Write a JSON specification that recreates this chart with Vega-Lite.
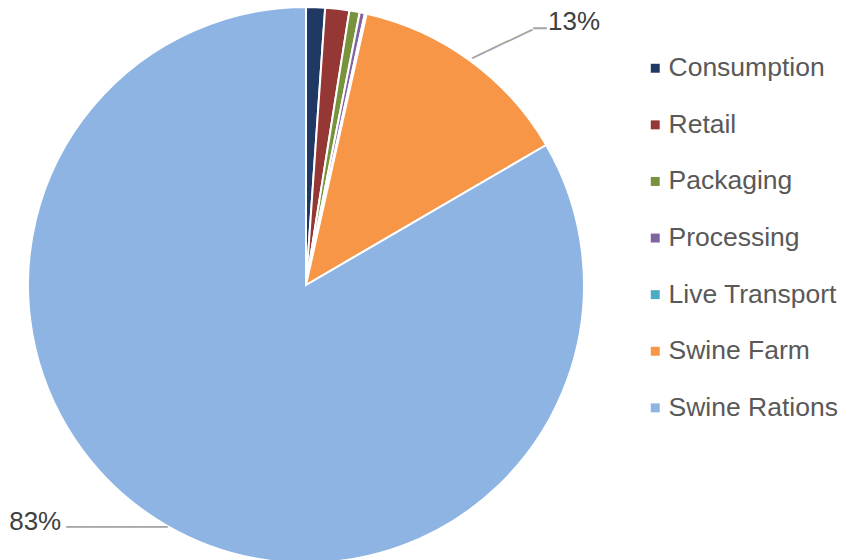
{
  "$schema": "https://vega.github.io/schema/vega-lite/v6.json",
  "width": 612,
  "height": 570,
  "padding": {"left": 0, "top": 0, "right": 235, "bottom": 0},
  "autosize": "none",
  "background": "white",
  "data": {
    "values": [
      {"category": "Consumption", "value": 1.1, "order": 1, "label": ""},
      {"category": "Retail", "value": 1.4, "order": 2, "label": ""},
      {"category": "Packaging", "value": 0.6, "order": 3, "label": ""},
      {"category": "Processing", "value": 0.3, "order": 4, "label": ""},
      {"category": "Live Transport", "value": 0.1, "order": 5, "label": ""},
      {"category": "Swine Farm", "value": 13.1, "order": 6, "label": "13%"},
      {"category": "Swine Rations", "value": 83.4, "order": 7, "label": "83%"}
    ]
  },
  "encoding": {
    "theta": {"field": "value", "type": "quantitative", "stack": true},
    "order": {"field": "order", "type": "quantitative"}
  },
  "layer": [
    {
      "mark": {"type": "arc", "outerRadius": 278, "stroke": "white", "strokeWidth": 2},
      "encoding": {
        "color": {
          "field": "category",
          "type": "nominal",
          "sort": ["Consumption", "Retail", "Packaging", "Processing", "Live Transport", "Swine Farm", "Swine Rations"],
          "scale": {
            "domain": ["Consumption", "Retail", "Packaging", "Processing", "Live Transport", "Swine Farm", "Swine Rations"],
            "range": ["#1F3864", "#953735", "#77933C", "#8064A2", "#4BACC6", "#F79646", "#8EB4E3"]
          },
          "legend": {
            "title": null,
            "orient": "none",
            "legendX": 642,
            "legendY": 55,
            "symbolType": "square",
            "symbolSize": 80,
            "symbolStrokeWidth": 0,
            "labelFont": "Liberation Sans",
            "labelFontSize": 26.5,
            "labelColor": "#595959",
            "labelOffset": 0,
            "rowPadding": 29.6,
            "labelLimit": 300
          }
        }
      }
    },
    {
      "mark": {"type": "text", "radius": 375.5, "thetaOffset": 0.1634, "font": "Liberation Sans", "fontSize": 26, "color": "#404040", "align": "center", "baseline": "middle"},
      "encoding": {"text": {"condition": {"test": "datum.category == 'Swine Farm'", "field": "label"}, "value": ""}}
    },
    {
      "mark": {"type": "text", "radius": 360, "thetaOffset": 0.330, "font": "Liberation Sans", "fontSize": 26, "color": "#404040", "align": "center", "baseline": "middle"},
      "encoding": {"text": {"condition": {"test": "datum.category == 'Swine Rations'", "field": "label"}, "value": ""}}
    },
    {
      "mark": {"type": "text", "radius": 310.6, "thetaOffset": 0.0532, "angle": 334.6, "font": "DejaVu Sans Mono", "fontSize": 22, "color": "#A6A6A6", "align": "center", "baseline": "middle"},
      "encoding": {"text": {"condition": {"test": "datum.category == 'Swine Farm'", "value": "─────"}, "value": ""}}
    },
    {
      "mark": {"type": "text", "radius": 346.8, "thetaOffset": 0.1087, "font": "DejaVu Sans Mono", "fontSize": 22, "color": "#A6A6A6", "align": "center", "baseline": "middle"},
      "encoding": {"text": {"condition": {"test": "datum.category == 'Swine Farm'", "value": "─"}, "value": ""}}
    },
    {
      "mark": {"type": "text", "radius": 307.8, "thetaOffset": 0.140, "font": "DejaVu Sans Mono", "fontSize": 21, "color": "#A6A6A6", "align": "center", "baseline": "middle"},
      "encoding": {"text": {"condition": {"test": "datum.category == 'Swine Rations'", "value": "────────"}, "value": ""}}
    }
  ]
}
